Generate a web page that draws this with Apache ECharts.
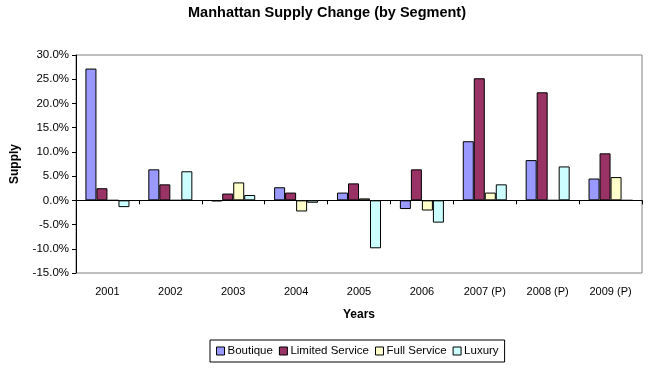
<!DOCTYPE html>
<html><head><meta charset="utf-8">
<script src="https://cdn.jsdelivr.net/npm/echarts@6/dist/echarts.min.js"></script>
<style>html,body{margin:0;padding:0;background:#fff}#c{width:653px;height:372px}</style>
</head><body><div id="c"></div>
<script>
const categories = ['2001','2002','2003','2004','2005','2006','2007 (P)','2008 (P)','2009 (P)'];
const boutique = [27.2, 6.4, -0.2, 2.7, 1.6, -1.8, 12.2, 8.3, 4.5];
const limitedService = [2.5, 3.3, 1.4, 1.6, 3.5, 6.4, 25.2, 22.3, 9.7];
const fullService = [0, 0, 3.7, -2.3, 0.4, -2.1, 1.6, 0, 4.8];
const luxury = [-1.4, 6.0, 1.1, -0.5, -9.9, -4.6, 3.3, 7.0, 0];
const seriesNames = ['Boutique','Limited Service','Full Service','Luxury'];
const seriesColors = ['#9999FF','#993366','#FFFFCC','#CCFFFF'];
const seriesData = [boutique, limitedService, fullService, luxury];

const font = 'Liberation Sans, Arial, sans-serif';
const chart = echarts.init(document.getElementById('c'), null, {renderer:'canvas'});
chart.setOption({
  animation:false,
  backgroundColor:'#fff',
  title:{text:'Manhattan Supply Change (by Segment)', left:322, textAlign:'center', top:0,
    textStyle:{fontFamily:font, fontSize:14.5, fontWeight:'bold', color:'#000'}},
  grid:{left:76, right:11, top:55, bottom:99, show:true, borderColor:'#808080', borderWidth:1, containLabel:false},
  legend:{bottom:10, left:210, itemWidth:8, itemHeight:8, itemGap:6,
    borderColor:'#000', borderWidth:1, padding:[5,6,5,6], borderRadius:0,
    textStyle:{fontFamily:font, fontSize:11.5, color:'#000', padding:[0,0,0,-2]},
    data:seriesNames.map(n=>({name:n, icon:'rect', itemStyle:{borderColor:'#000', borderWidth:1}}))},
  xAxis:[
    {type:'category', data:categories, axisLine:{onZero:true, lineStyle:{color:'#000', width:1}},
     axisTick:{show:true, length:4, inside:false, lineStyle:{color:'#000'}}, axisLabel:{show:false}},
    {type:'category', data:categories, position:'bottom', axisLine:{show:false, onZero:false}, axisTick:{show:false},
     axisLabel:{fontFamily:font, fontSize:11, color:'#000', margin:13},
     name:'Years', nameLocation:'middle', nameGap:36,
     nameTextStyle:{fontFamily:font, fontSize:12, fontWeight:'bold', color:'#000'}}
  ],
  yAxis:{type:'value', min:-15, max:30, interval:5,
    axisLine:{show:true, lineStyle:{color:'#000'}}, axisTick:{show:true, length:4, lineStyle:{color:'#000'}},
    splitLine:{show:false},
    axisLabel:{formatter:v=>v.toFixed(1)+'%', fontFamily:font, fontSize:11.5, color:'#000', margin:7},
    name:'Supply', nameLocation:'middle', nameGap:55, nameRotate:90,
    nameTextStyle:{fontFamily:font, fontSize:12, fontWeight:'bold', color:'#000'}},
  series:seriesNames.map((n,i)=>({name:n, type:'bar', xAxisIndex:0, data:seriesData[i],
    barGap:'0%', barCategoryGap:'30%',
    itemStyle:{color:seriesColors[i], borderColor:'#000', borderWidth:1}}))
});
</script></body></html>
